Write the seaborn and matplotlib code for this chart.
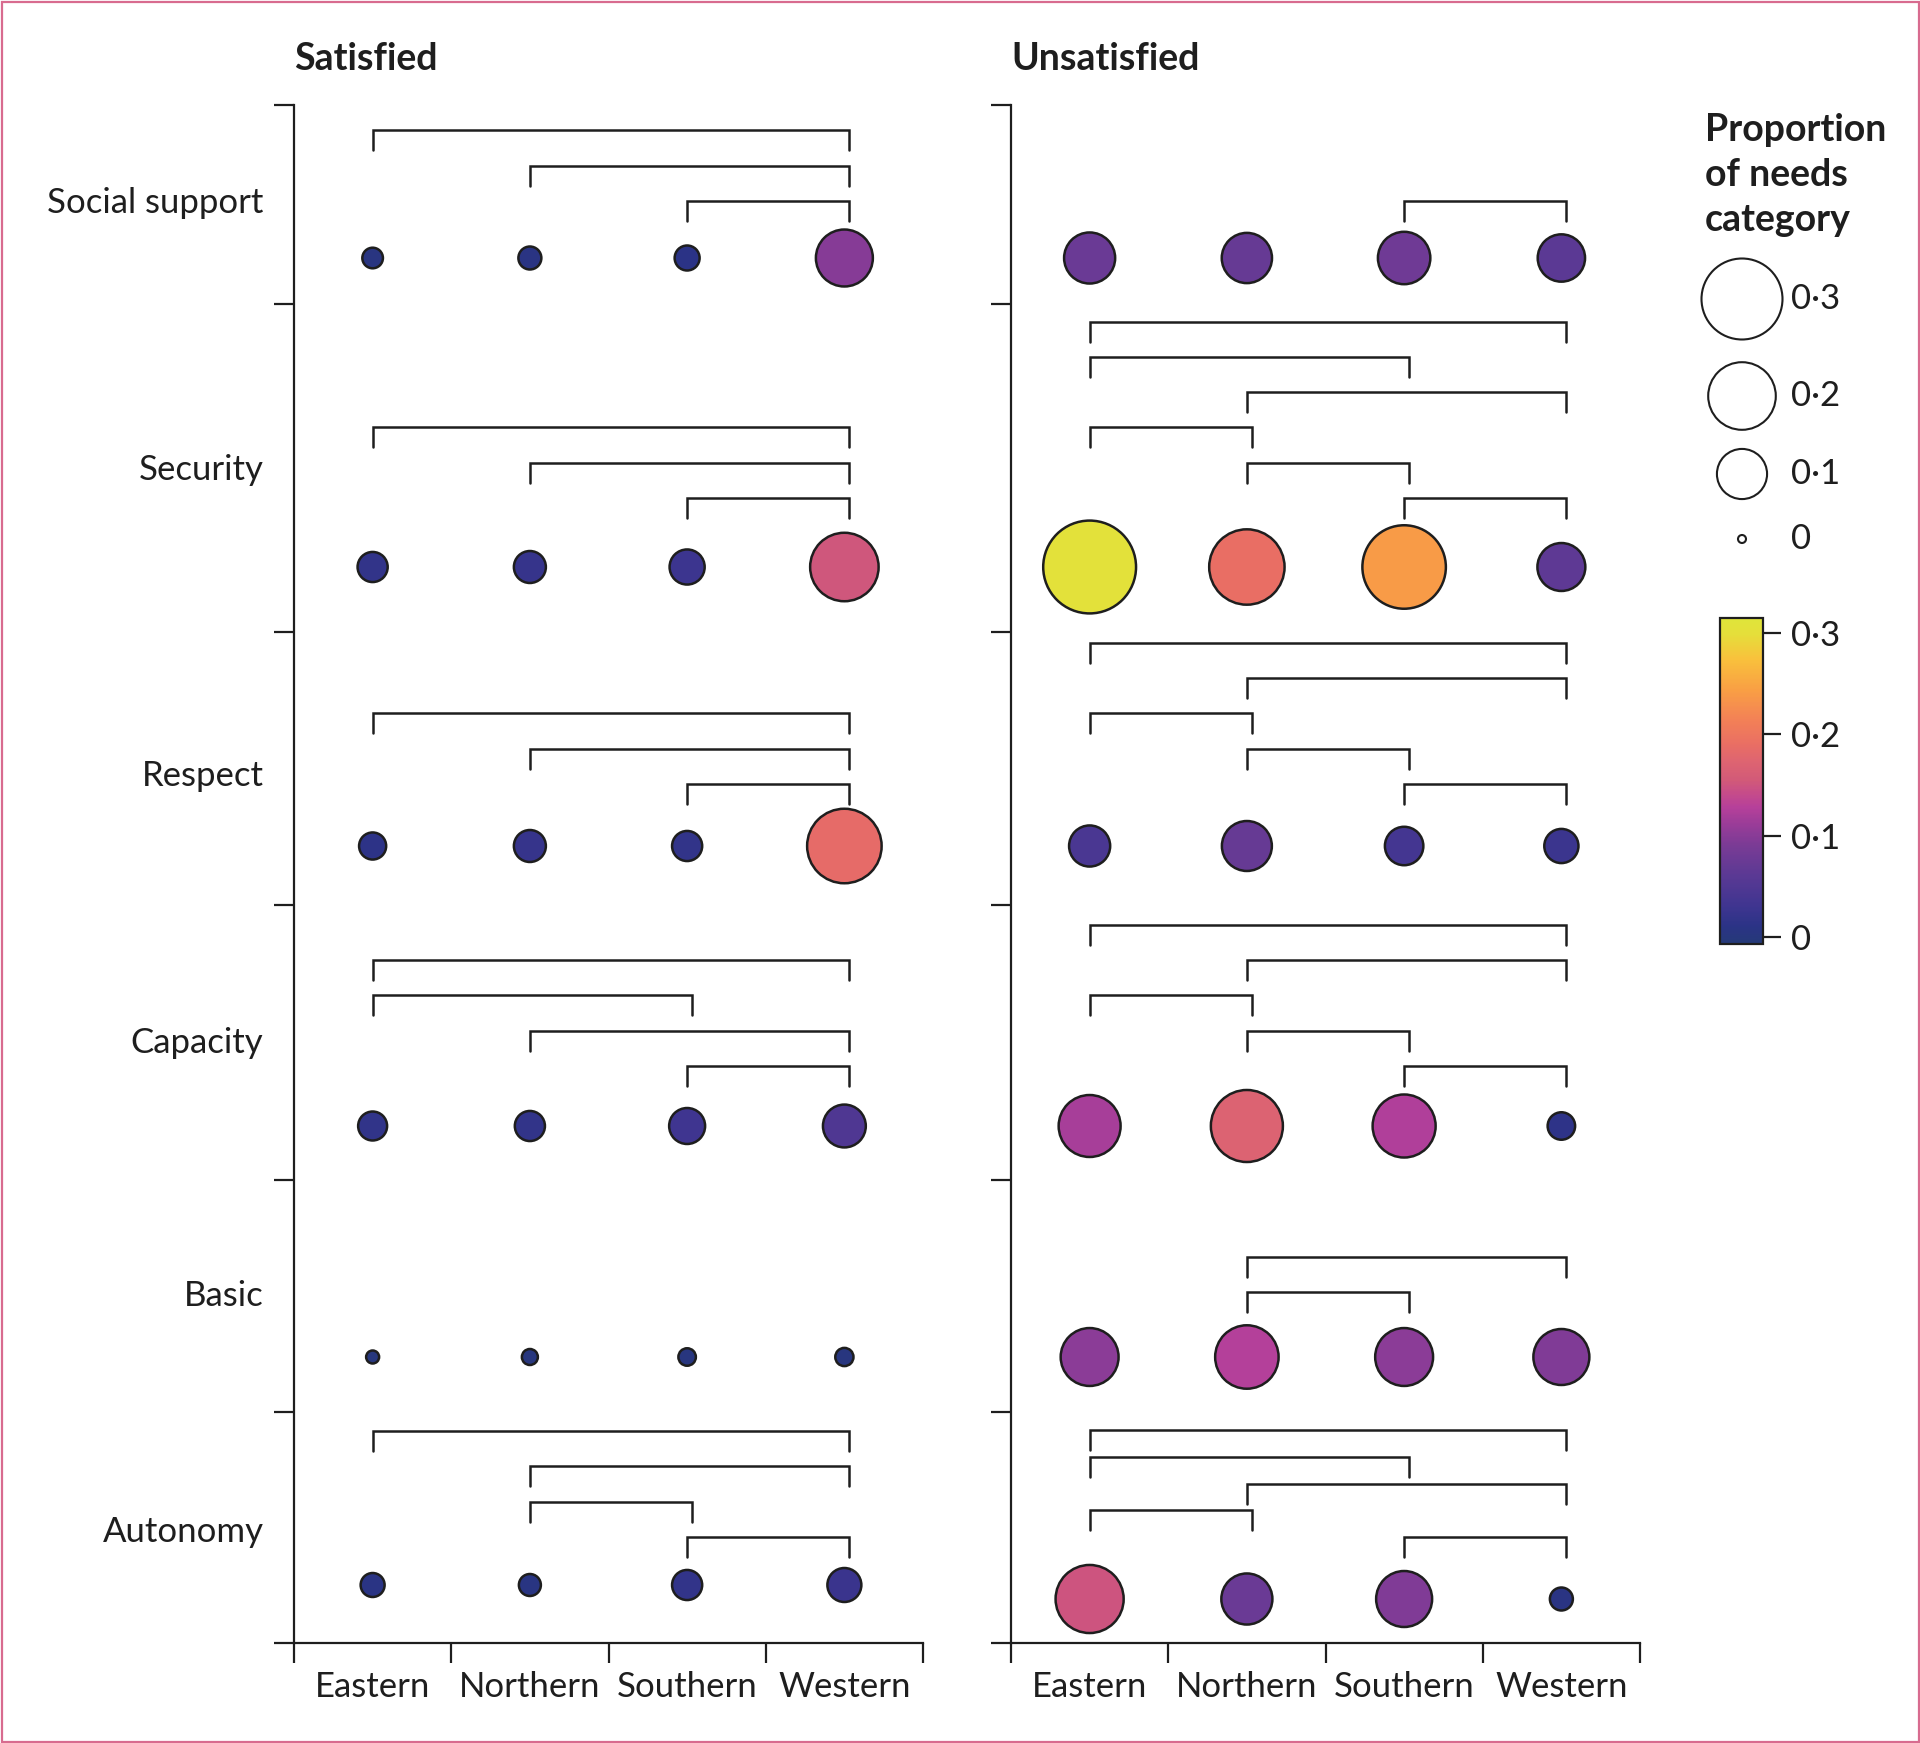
import numpy as np
import pandas as pd
import matplotlib
matplotlib.use("Agg")
import matplotlib.pyplot as plt
import seaborn as sns
from matplotlib.colors import LinearSegmentedColormap, Normalize
from matplotlib.cm import ScalarMappable
from matplotlib.patches import Rectangle

# ---------------- data ----------------
REGIONS = ["Eastern", "Northern", "Southern", "Western"]
NEEDS = ["Social support", "Security", "Respect", "Capacity", "Basic", "Autonomy"]
PANEL_TITLES = ["Satisfied", "Unsatisfied"]

# proportion of needs category (rows follow NEEDS, columns follow REGIONS)
SATISFIED = [
    [0.005, 0.0075, 0.010, 0.098],
    [0.018, 0.0215, 0.028, 0.152],
    [0.013, 0.0215, 0.018, 0.185],
    [0.016, 0.018, 0.030, 0.048],
    [0.0004, 0.0016, 0.0025, 0.003],
    [0.0087, 0.0064, 0.018, 0.0256],
]
UNSATISFIED = [
    [0.075, 0.072, 0.080, 0.062],
    [0.305, 0.190, 0.240, 0.064],
    [0.043, 0.071, 0.036, 0.026],
    [0.120, 0.171, 0.125, 0.0136],
    [0.102, 0.127, 0.102, 0.094],
    [0.150, 0.075, 0.094, 0.0075],
]

# significant pairwise comparisons (listed from the lowest bracket upward)
SAT_BRACKETS = [
    [("Southern", "Western"), ("Northern", "Western"), ("Eastern", "Western")],
    [("Southern", "Western"), ("Northern", "Western"), ("Eastern", "Western")],
    [("Southern", "Western"), ("Northern", "Western"), ("Eastern", "Western")],
    [("Southern", "Western"), ("Northern", "Western"), ("Eastern", "Southern"), ("Eastern", "Western")],
    [],
    [("Southern", "Western"), ("Northern", "Southern"), ("Northern", "Western"), ("Eastern", "Western")],
]
UNSAT_BRACKETS = [
    [("Southern", "Western")],
    [("Southern", "Western"), ("Northern", "Southern"), ("Eastern", "Northern"),
     ("Northern", "Western"), ("Eastern", "Southern"), ("Eastern", "Western")],
    [("Southern", "Western"), ("Northern", "Southern"), ("Eastern", "Northern"),
     ("Northern", "Western"), ("Eastern", "Western")],
    [("Southern", "Western"), ("Northern", "Southern"), ("Eastern", "Northern"),
     ("Northern", "Western"), ("Eastern", "Western")],
    [("Northern", "Southern"), ("Northern", "Western")],
    [("Southern", "Western"), ("Eastern", "Northern"), ("Northern", "Western"),
     ("Eastern", "Southern"), ("Eastern", "Western")],
]

SIZE_LEGEND_VALUES = [0.3, 0.2, 0.1, 0.0]
COLORBAR_TICKS = [0.0, 0.1, 0.2, 0.3]
LEGEND_TITLE = ["Proportion", "of needs", "category"]

# ---------------- layout / style ----------------
W, H, DPI = 1920, 1743, 100
INK = "#1e1e1e"
FONT = ["Lato", "DejaVu Sans"]
FS = 25
FS_TITLE = 27

ROW_EDGES = [105, 304, 632, 905, 1180, 1412, 1643]          # vertical layout units
LABEL_Y = [200, 467, 773, 1040, 1293, 1529]
BUBBLE_Y = [[258, 567, 846, 1126, 1357, 1585],
            [258, 567, 846, 1126, 1357, 1599]]
BRACKET_BASE = [201, 498, 784, 1066, 1292, 1537]
BRACKET_STEP = [[35.3] * 6, [35.3] * 5 + [26.75]]
BRACKET_LEG = 20
BRACKET_RIGHT_SHIFT = 0.03

AX_LEFT = [294, 1011]
AX_WIDTH = 629

CB_LIMITS = (-0.007, 0.315)
CMAP_STOPS = [
    (-0.007, "#253a78"), (0.010, "#2b3386"), (0.030, "#3f3590"), (0.060, "#5a3994"),
    (0.090, "#7a3b95"), (0.110, "#983c98"), (0.128, "#b6409a"), (0.140, "#c44a8c"),
    (0.155, "#d25a78"), (0.175, "#df6570"), (0.190, "#e96e64"), (0.215, "#f38156"),
    (0.245, "#f9a044"), (0.275, "#f9c13c"), (0.300, "#e5df3a"), (0.315, "#dfe53a"),
]

sns.set_style("white")
plt.rcParams["font.family"] = FONT
plt.rcParams["text.color"] = INK
plt.rcParams["axes.edgecolor"] = INK
plt.rcParams["xtick.color"] = INK
plt.rcParams["ytick.color"] = INK

norm = Normalize(*CB_LIMITS)
span = CB_LIMITS[1] - CB_LIMITS[0]
cmap = LinearSegmentedColormap.from_list(
    "needs", [((v - CB_LIMITS[0]) / span, c) for v, c in CMAP_STOPS])


def bubble_area(v):
    d_px = 10 + 150 * np.sqrt(np.asarray(v, dtype=float))
    return (d_px * 72 / DPI) ** 2


def legend_area(v):
    d_px = 8 + 73 * np.sqrt(np.asarray(v, dtype=float) / 0.3)
    return (d_px * 72 / DPI) ** 2


def fmt(v):
    return "0" if v == 0 else f"{v:.1f}".replace(".", "\u00b7")


fig = plt.figure(figsize=(W / DPI, H / DPI), dpi=DPI)
ax_bottom = 1 - ROW_EDGES[-1] / H
ax_height = (ROW_EDGES[-1] - ROW_EDGES[0]) / H
amin, amax = float(bubble_area(0)), float(bubble_area(0.4))

for p, (values, brackets) in enumerate([(SATISFIED, SAT_BRACKETS), (UNSATISFIED, UNSAT_BRACKETS)]):
    ax = fig.add_axes([AX_LEFT[p] / W, ax_bottom, AX_WIDTH / W, ax_height])
    df = pd.DataFrame({
        "need": np.repeat(NEEDS, len(REGIONS)),
        "region": REGIONS * len(NEEDS),
        "value": np.ravel(values),
    })
    df["x"] = pd.Categorical(df["region"], categories=REGIONS).codes
    df["y"] = [BUBBLE_Y[p][NEEDS.index(n)] for n in df["need"]]
    df["area"] = bubble_area(df["value"])
    sns.scatterplot(data=df, x="x", y="y", hue="value", palette=cmap, hue_norm=norm,
                    size="area", sizes=(amin, amax), size_norm=(amin, amax),
                    edgecolor=INK, linewidth=1.8, legend=False, ax=ax, zorder=3)

    for i, pairs in enumerate(brackets):
        for k, (a, b) in enumerate(pairs):
            yb = BRACKET_BASE[i] - k * BRACKET_STEP[p][i]
            xa, xb = REGIONS.index(a), REGIONS.index(b) + BRACKET_RIGHT_SHIFT
            ax.plot([xa, xa, xb, xb], [yb + BRACKET_LEG, yb, yb, yb + BRACKET_LEG],
                    color=INK, lw=1.8, solid_joinstyle="miter", zorder=2)

    ax.set_xlim(-0.5, len(REGIONS) - 0.5)
    ax.set_ylim(ROW_EDGES[-1], ROW_EDGES[0])
    ax.set_xticks(range(len(REGIONS)))
    ax.set_xticklabels(REGIONS)
    ax.set_xticks(np.arange(-0.5, len(REGIONS), 1.0), minor=True)
    ax.set_yticks(LABEL_Y)
    ax.set_yticklabels(NEEDS if p == 0 else [])
    ax.set_yticks(ROW_EDGES, minor=True)
    ax.tick_params(axis="x", which="both", bottom=True, top=False)
    ax.tick_params(axis="y", which="both", left=True, right=False)
    ax.tick_params(axis="x", which="major", length=0, pad=20, labelsize=FS)
    ax.tick_params(axis="y", which="major", length=0, pad=22, labelsize=FS)
    ax.tick_params(axis="both", which="minor", length=14.4, width=1.6, color=INK)
    ax.set_xlabel("")
    ax.set_ylabel("")
    sns.despine(ax=ax)
    for s in ("left", "bottom"):
        ax.spines[s].set_linewidth(1.6)
        ax.spines[s].set_color(INK)
    fig.text(AX_LEFT[p] / W, 1 - 70 / H, PANEL_TITLES[p], fontsize=FS_TITLE, fontweight="bold",
             ha="left", va="baseline")

# ---------- size legend ----------
for j, line in enumerate(LEGEND_TITLE):
    fig.text(1705 / W, 1 - [141, 186, 231][j] / H, line, fontsize=FS_TITLE, fontweight="bold",
             ha="left", va="baseline")

lax = fig.add_axes([1690 / W, 1 - 580 / H, 230 / W, 320 / H])
lax.set_xlim(1690, 1920)
lax.set_ylim(580, 260)
lax.axis("off")
LEGEND_KEY_Y = [299, 396, 474, 539]
lax.scatter([1742] * len(SIZE_LEGEND_VALUES), LEGEND_KEY_Y,
            s=legend_area(SIZE_LEGEND_VALUES), facecolor="white", edgecolor=INK,
            linewidth=1.5, clip_on=False)
for v, y in zip(SIZE_LEGEND_VALUES, LEGEND_KEY_Y):
    lax.text(1791, y, fmt(v), fontsize=FS, ha="left", va="center")

# ---------- colour bar ----------
cax = fig.add_axes([1720 / W, 1 - 944 / H, 43 / W, (944 - 618) / H])
cb = fig.colorbar(ScalarMappable(norm=norm, cmap=cmap), cax=cax, ticks=COLORBAR_TICKS)
cb.ax.set_yticklabels([fmt(v) for v in COLORBAR_TICKS])
cb.ax.tick_params(right=True, length=13, width=1.6, pad=7, labelsize=FS, color=INK)
cb.outline.set_linewidth(1.6)
cb.outline.set_edgecolor(INK)

# ---------- pink frame ----------
fig.patches.append(Rectangle((1.5 / W, 1.5 / H), 1 - 3 / W, 1 - 3 / H, transform=fig.transFigure,
                             fill=False, edgecolor="#d86b8f", linewidth=1.6))

fig.savefig("out.png", dpi=DPI)
